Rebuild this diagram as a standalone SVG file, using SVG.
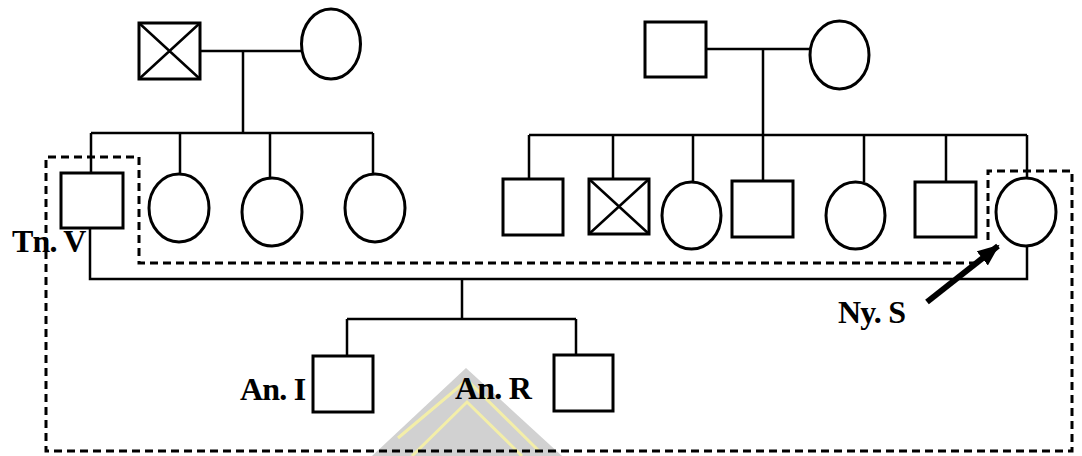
<svg xmlns="http://www.w3.org/2000/svg" width="1082" height="456" viewBox="0 0 1082 456">
  <style>
    .sh { fill: #ffffff; stroke: #000; stroke-width: 3; }
    .ln { fill: none; stroke: #000; stroke-width: 2.5; }
    .x { stroke: #000; stroke-width: 2.5; }
    .dash { fill: none; stroke: #000; stroke-width: 3; stroke-dasharray: 8 5; }
    .lbl { font-family: "Liberation Serif", "Times New Roman", serif; font-weight: bold; font-size: 32px; letter-spacing: -0.8px; fill: #000; }
  </style>
  <defs>
    <marker id="ah" markerUnits="userSpaceOnUse" markerWidth="24" markerHeight="20" refX="20" refY="9" orient="auto">
      <path d="M0,0 L22,9 L0,18 Z" fill="#000"/>
    </marker>
  </defs>
  <rect width="1082" height="456" fill="#ffffff"/>

  <g id="watermark" opacity="0.85">
    <polygon points="466,368 372,456 562,456" fill="#c9c9c9"/>
    <polyline points="398,438 467,380 540,452" fill="none" stroke="#f2ec9a" stroke-width="3"/>
    <polyline points="412,456 467,402 522,456" fill="none" stroke="#f2ec9a" stroke-width="3"/>
  </g>

  <g id="connectors">
    <path class="ln" d="M200,51 H302 M243,51 V133 M91,133 H373 M91,133 V173 M180,133 V174 M270,133 V178 M373,133 V174"/>
    <path class="ln" d="M706,49 H810 M763,49 V135 M529,135 H1027 M529,135 V179 M613,135 V179 M693,135 V182 M763,135 V181 M864,135 V182 M946,135 V182 M1027,135 V178"/>
    <path class="ln" d="M90,228 V279 H1027 V246"/>
    <path class="ln" d="M462,279 V319 M347,319 H576 M347,319 V356 M576,319 V355"/>
  </g>

  <g id="dashed-outline">
    <path class="dash" d="M988,240 V171 H1072 V451 H46 V157 H139 V263 H978"/>
  </g>

  <g id="gp1-male">
    <rect class="sh" x="139" y="23" width="61" height="56"/>
    <path class="x" d="M139,23 L200,79 M200,23 L139,79"/>
  </g>
  <g id="gp1-female"><ellipse class="sh" cx="331" cy="44" rx="29.5" ry="35"/></g>
  <g id="gp2-male"><rect class="sh" x="645" y="22" width="61" height="55"/></g>
  <g id="gp2-female"><ellipse class="sh" cx="839.5" cy="55" rx="29.5" ry="34"/></g>

  <g id="tn-v">
    <rect class="sh" x="61" y="173" width="62" height="55"/>
    <text class="lbl" x="12" y="252">Tn. V</text>
  </g>
  <g id="l-sis1"><ellipse class="sh" cx="179" cy="208" rx="30" ry="34"/></g>
  <g id="l-sis2"><ellipse class="sh" cx="272" cy="212" rx="30" ry="34"/></g>
  <g id="l-sis3"><ellipse class="sh" cx="375" cy="208" rx="30" ry="34"/></g>

  <g id="r-bro1"><rect class="sh" x="503" y="179" width="60" height="56"/></g>
  <g id="r-bro2">
    <rect class="sh" x="589" y="179" width="60" height="55"/>
    <path class="x" d="M589,179 L649,234 M649,179 L589,234"/>
  </g>
  <g id="r-sis1"><ellipse class="sh" cx="691.5" cy="215.5" rx="29.5" ry="33.5"/></g>
  <g id="r-bro3"><rect class="sh" x="732" y="181" width="61" height="56"/></g>
  <g id="r-sis2"><ellipse class="sh" cx="855.5" cy="215.5" rx="29.5" ry="33.5"/></g>
  <g id="r-bro4"><rect class="sh" x="915" y="182" width="61" height="55"/></g>

  <g id="ny-s">
    <ellipse class="sh" cx="1026" cy="212" rx="30" ry="34"/>
    <line x1="927" y1="302" x2="998" y2="246" stroke="#000" stroke-width="6" marker-end="url(#ah)"/>
    <text class="lbl" x="838" y="323">Ny. S</text>
  </g>

  <g id="an-i">
    <rect class="sh" x="313" y="356" width="60" height="56"/>
    <text class="lbl" x="240" y="400">An. I</text>
  </g>
  <g id="an-r">
    <rect class="sh" x="554" y="355" width="59" height="56"/>
    <text class="lbl" x="455" y="399">An. R</text>
  </g>
</svg>
